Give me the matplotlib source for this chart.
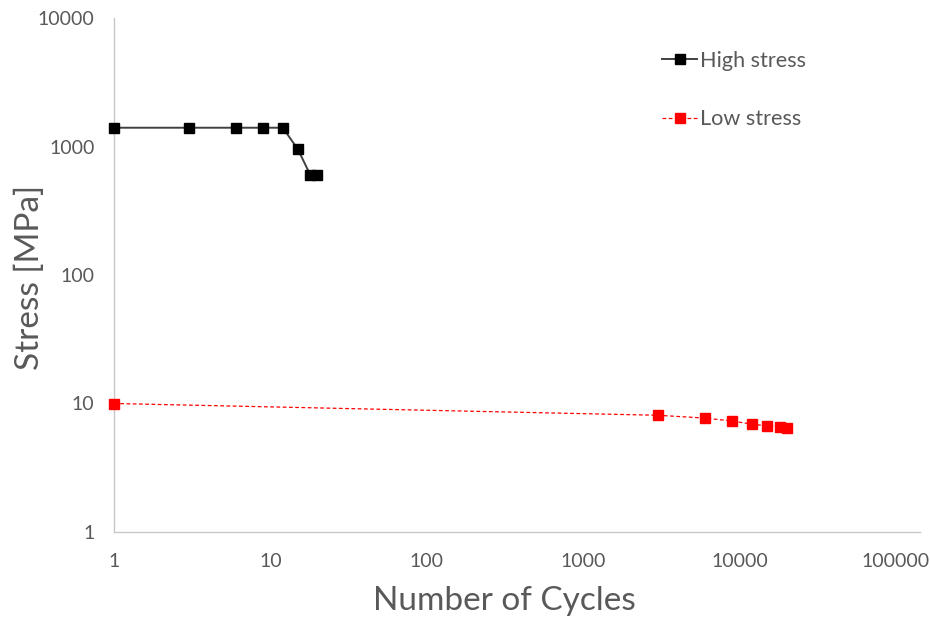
import matplotlib.pyplot as plt

high_x = [1, 3, 6, 9, 12, 15, 18, 20]
high_y = [1400, 1400, 1400, 1400, 1400, 950, 600, 600]
low_x = [1, 3000, 6000, 9000, 12000, 15000, 18000, 20000]
low_y = [10, 8.1, 7.7, 7.3, 6.9, 6.7, 6.6, 6.5]

grey = '#595959'
plt.rcParams['font.family'] = ['Lato', 'DejaVu Sans']

fig = plt.figure(figsize=(9.3, 6.23), dpi=100)
ax = fig.add_axes([114/930, 91/623, 806/930, 514/623])

ax.plot(high_x, high_y, color='#404040', lw=1.4, marker='s', ms=6.5,
        mfc='black', mec='black', label='High stress', clip_on=False, zorder=3)
ax.plot(low_x, low_y, color='red', lw=0.9, ls=(0, (3, 2)), marker='s', ms=7,
        mfc='red', mec='red', label='Low stress', clip_on=False, zorder=3)

ax.set_xscale('log')
ax.set_yscale('log')
ax.set_xlim(1, 10**(806/156.4))
ax.set_ylim(1, 10000)
ax.set_xticks([1, 10, 100, 1000, 10000, 100000])
ax.set_xticklabels(['1', '10', '100', '1000', '10000', '100000'])
ax.set_yticks([1, 10, 100, 1000, 10000])
ax.set_yticklabels(['1', '10', '100', '1000', '10000'])
ax.minorticks_off()
ax.tick_params(length=0, labelsize=14, labelcolor=grey)
ax.tick_params(axis='x', pad=15)
ax.tick_params(axis='y', pad=14)

for s in ['top', 'right']:
    ax.spines[s].set_visible(False)
for s in ['left', 'bottom']:
    ax.spines[s].set_color('#C8C8C8')
    ax.spines[s].set_linewidth(1)

ax.set_xlabel('Number of Cycles', fontsize=24, color=grey, va='top')
ax.set_ylabel('Stress [MPa]', fontsize=24, color=grey)
ax.xaxis.set_label_coords(0.484, -0.106)
ax.yaxis.set_label_coords(-0.085, 0.495)

leg = ax.legend(loc='upper left', bbox_to_anchor=(0.656, 0.974), frameon=False,
                fontsize=15.6, labelspacing=1.77, handlelength=1.6,
                handletextpad=0.15, labelcolor=grey)

fig.savefig('out.png', dpi=100)
